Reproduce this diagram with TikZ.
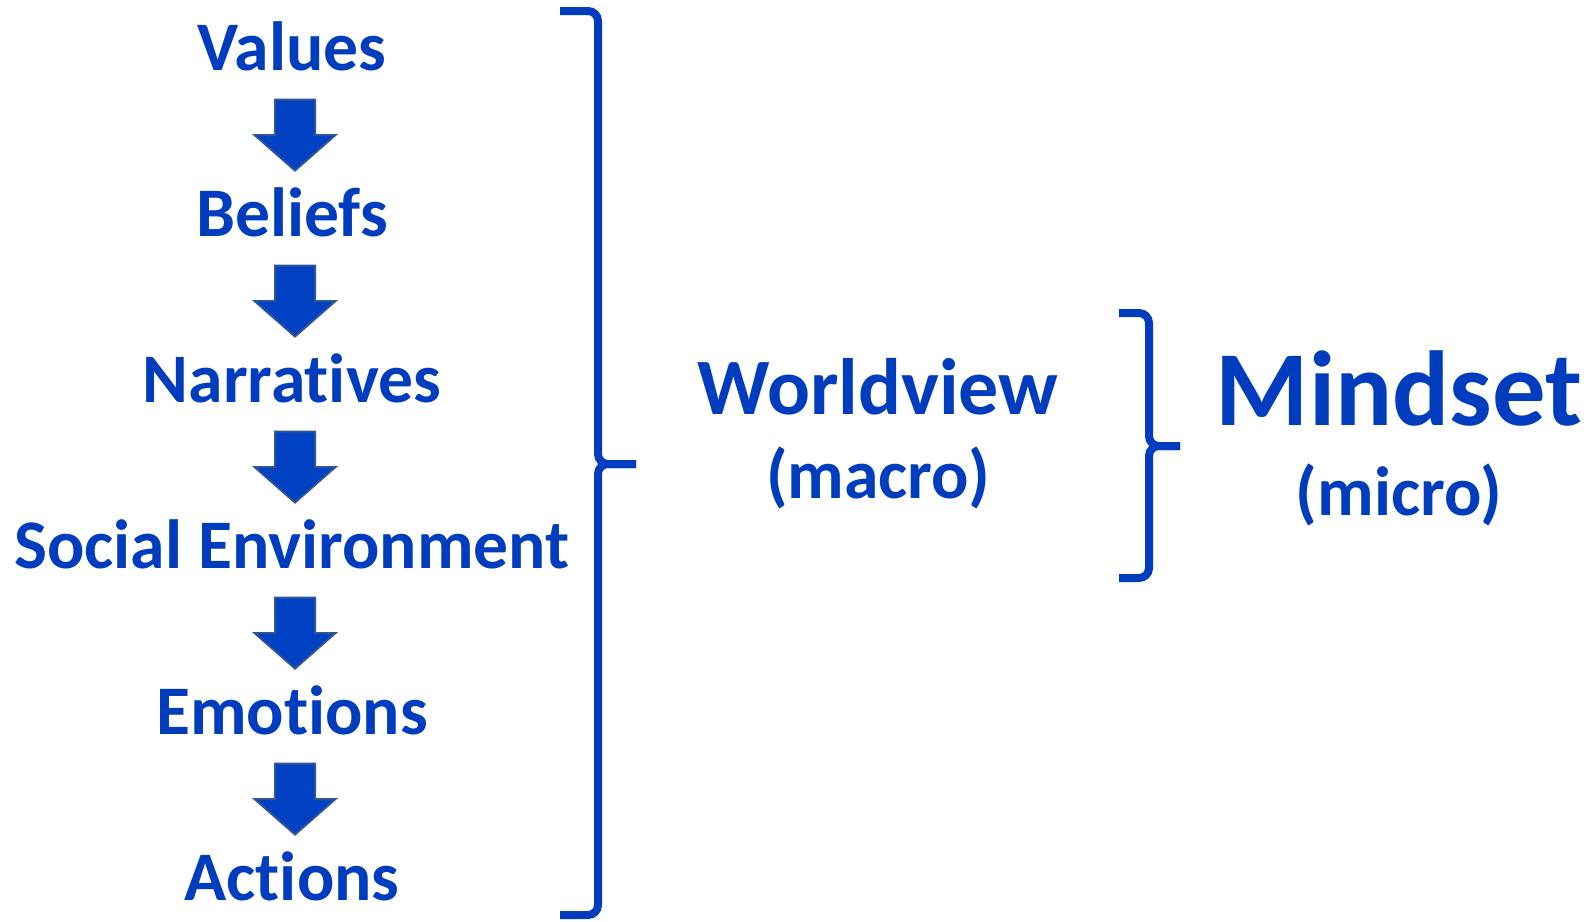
\documentclass[tikz,border=0pt]{standalone}
\usepackage{fontspec}
\setmainfont{Carlito}[Ligatures=NoCommon]
\usetikzlibrary{positioning,calc}

\definecolor{ink}{RGB}{0,61,190}
\definecolor{arrowblue}{RGB}{0,64,194}
\definecolor{arrowedge}{RGB}{47,85,151}

\tikzset{
  stepnode/.style={inner sep=0pt,text height=22.6pt,text depth=0pt,
    text=ink,font=\fontsize{34.8}{40}\selectfont\bfseries},
  titlenode/.style={inner sep=0pt,text=ink,font=\fontsize{40}{46}\selectfont\bfseries},
  bignode/.style={inner sep=0pt,text=ink,font=\fontsize{53.3}{60}\selectfont\bfseries},
  subnode/.style={inner sep=0pt,text=ink,font=\fontsize{34.8}{40}\selectfont\bfseries},
  bracket/.style={draw=ink,line width=4pt,rounded corners=5pt},
  downarrow/.pic={
    \filldraw[fill=arrowblue,draw=arrowedge,line width=1pt]
      (-20,-35.5) -- (20,-35.5) -- (20,0) -- (40.5,0) -- (0,35.5)
      -- (-40.5,0) -- (-20,0) -- cycle;
  }
}

\begin{document}
\begin{tikzpicture}[x=0.5pt,y=-0.5pt,node distance=83pt]
  \useasboundingbox (0,0) rectangle (1593,921);

  % the chain on the left
  \begin{scope}[on grid]
    \node[stepnode] (values) at (292,48) {Values};
    \node[stepnode] (beliefs) [below=of values] {Beliefs};
    \node[stepnode] (narratives) [below=of beliefs] {Narratives};
    \node[stepnode] (social) [below=of narratives] {Social Environment};
    \node[stepnode] (emotions) [below=of social] {Emotions};
    \node[stepnode] (actions) [below=of emotions] {Actions};
  \end{scope}

  \foreach \from/\to in {values/beliefs, beliefs/narratives, narratives/social,
                         social/emotions, emotions/actions} {
      \pic at ($(\from)!0.5!(\to)+(3,4)$) {downarrow};
  }

  % big bracket
  \draw[bracket] (560,11) -| (598,464) -- (636,464);
  \draw[bracket] (636,464) -- (598,464) |- (560,915);

  \node[titlenode,anchor=base] (worldview) at (878,414) {Worldview};
  \node[subnode] (macro) [below=42pt of worldview.base,anchor=base] {(macro)};

  % small bracket
  \draw[bracket] (1119,313) -| (1149,446) -- (1180,446);
  \draw[bracket] (1180,446) -- (1149,446) |- (1119,578);

  \node[bignode,anchor=base] (mindset) at (1399,425) {Mindset};
  \node[subnode] (micro) [below=45pt of mindset.base,anchor=base] {(micro)};
\end{tikzpicture}
\end{document}
